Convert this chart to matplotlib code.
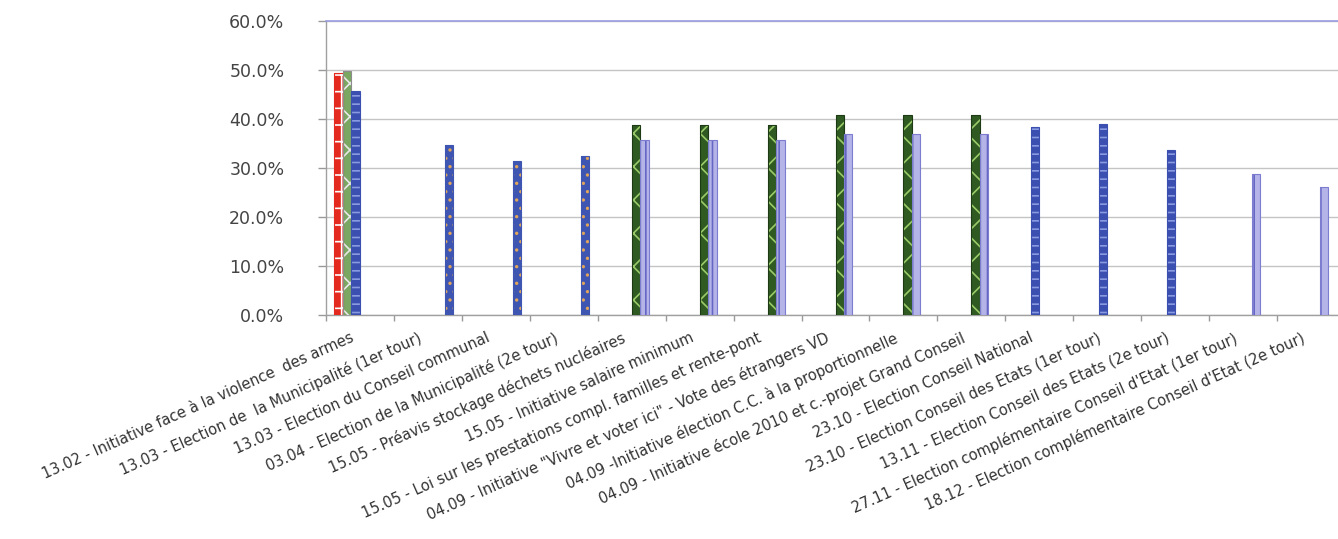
import numpy as np
import matplotlib
matplotlib.use("Agg")
import matplotlib.pyplot as plt
from matplotlib.ticker import FuncFormatter, FixedLocator
from matplotlib.transforms import ScaledTranslation

categories = [
    "13.02 - Initiative face à la violence  des armes",
    "13.03 - Election de  la Municipalité (1er tour)",
    "13.03 - Election du Conseil communal",
    "03.04 - Election de la Municipalité (2e tour)",
    "15.05 - Préavis stockage déchets nucléaires",
    "15.05 - Initiative salaire minimum",
    "15.05 - Loi sur les prestations compl. familles et rente-pont",
    "04.09 - Initiative \"Vivre et voter ici\" - Vote des étrangers VD",
    "04.09 -Initiative élection C.C. à la proportionnelle",
    "04.09 - Initiative école 2010 et c.-projet Grand Conseil",
    "23.10 - Election Conseil National",
    "23.10 - Election Conseil des Etats (1er tour)",
    "13.11 - Election Conseil des Etats (2e tour)",
    "27.11 - Election complémentaire Conseil d'Etat (1er tour)",
    "18.12 - Election complémentaire Conseil d'Etat (2e tour)",
]
nan = np.nan
series_red = [49.3, nan, nan, nan, nan, nan, nan, nan, nan, nan, nan, nan, nan, nan, nan]
series_greygreen = [49.7, nan, nan, nan, nan, nan, nan, nan, nan, nan, nan, nan, nan, nan, nan]
series_blue = [45.7, nan, nan, nan, nan, nan, nan, nan, nan, nan, 38.3, 38.9, 33.6, nan, nan]
series_green = [nan, nan, nan, nan, 38.7, 38.7, 38.7, 40.8, 40.8, 40.8, nan, nan, nan, nan, nan]
series_lavender = [nan, nan, nan, nan, 35.8, 35.8, 35.8, 37.0, 37.0, 37.0, nan, nan, nan, 28.7, 26.2]
series_orangeblue = [nan, 34.6, 31.4, 32.5, nan, nan, nan, nan, nan, nan, nan, nan, nan, nan, nan]
yticks = [0, 10, 20, 30, 40, 50, 60]

all_series = [series_red, series_greygreen, series_blue, series_green, series_lavender, series_orangeblue]
styles = [
    dict(face="#e4291f", hatch="+", hcol="#ffffff", edge="#e4291f"),
    dict(face="#7aa862", hatch="x", hcol="#e8e8e8", edge="#8c8c8c"),
    dict(face="#3a4fb0", hatch="--", hcol="#8a9ae0", edge="#3a4fb0"),
    dict(face="#2f5a22", hatch="x", hcol="#9ccc6a", edge="#1e3a14"),
    dict(face="#b4b4e8", hatch="||", hcol="#6666c4", edge="#7c7cd0"),
    dict(face="#3e56b2", hatch="..", hcol="#e0a55a", edge="#3e56b2"),
]

plt.rcParams['font.family'] = ['DejaVu Sans']
plt.rcParams['hatch.linewidth'] = 1.2

W, H = 1338, 539
fig = plt.figure(figsize=(W / 100, H / 100), dpi=100)
left = 326 / W
bottom = (H - 315) / H
width = (1345 - 326) / W
height = (315 - 21) / H
ax = fig.add_axes([left, bottom, width, height])

n = len(categories)
x = np.arange(n)
bw = 0.125
for k, (vals, st) in enumerate(zip(all_series, styles)):
    v = np.array(vals, dtype=float)
    pos = x + (k - 2.5) * bw
    ax.bar(pos, v, width=bw, color=st["face"], edgecolor=st["hcol"], hatch=st["hatch"], linewidth=0, zorder=3)
    ax.bar(pos, v, width=bw, fill=False, edgecolor=st["edge"], linewidth=0.8, zorder=4)

ax.set_xlim(-0.5, n - 0.5)
ax.set_ylim(0, 60)
ax.set_yticks(yticks)
ax.yaxis.set_major_formatter(FuncFormatter(lambda v, p: f"{v:.1f}%"))
ax.tick_params(axis="y", labelsize=12.5, labelcolor="#444444", color="#999999", length=6, width=1, pad=24)
ax.yaxis.grid(True, color="#c4c4c4", linewidth=1, zorder=0)
ax.set_axisbelow(True)

ax.set_xticks(x)
ax.set_xticklabels(categories, rotation=24, ha="right", va="top", rotation_mode="anchor",
                   fontsize=10.5, color="#333333")
ax.tick_params(axis="x", which="major", length=0, pad=11)
shift = ScaledTranslation(-10 / 100, 0, fig.dpi_scale_trans)
for lab in ax.get_xticklabels():
    lab.set_transform(lab.get_transform() + shift)
ax.xaxis.set_minor_locator(FixedLocator(np.arange(n + 1) - 0.5))
ax.tick_params(axis="x", which="minor", length=4, color="#999999", width=1)

for s in ["left", "bottom"]:
    ax.spines[s].set_color("#a0a0a0")
    ax.spines[s].set_linewidth(1)
ax.spines["top"].set_color("#9a9ae0")
ax.spines["top"].set_linewidth(1.2)
ax.spines["right"].set_visible(False)

fig.savefig("out.png", dpi=100)
